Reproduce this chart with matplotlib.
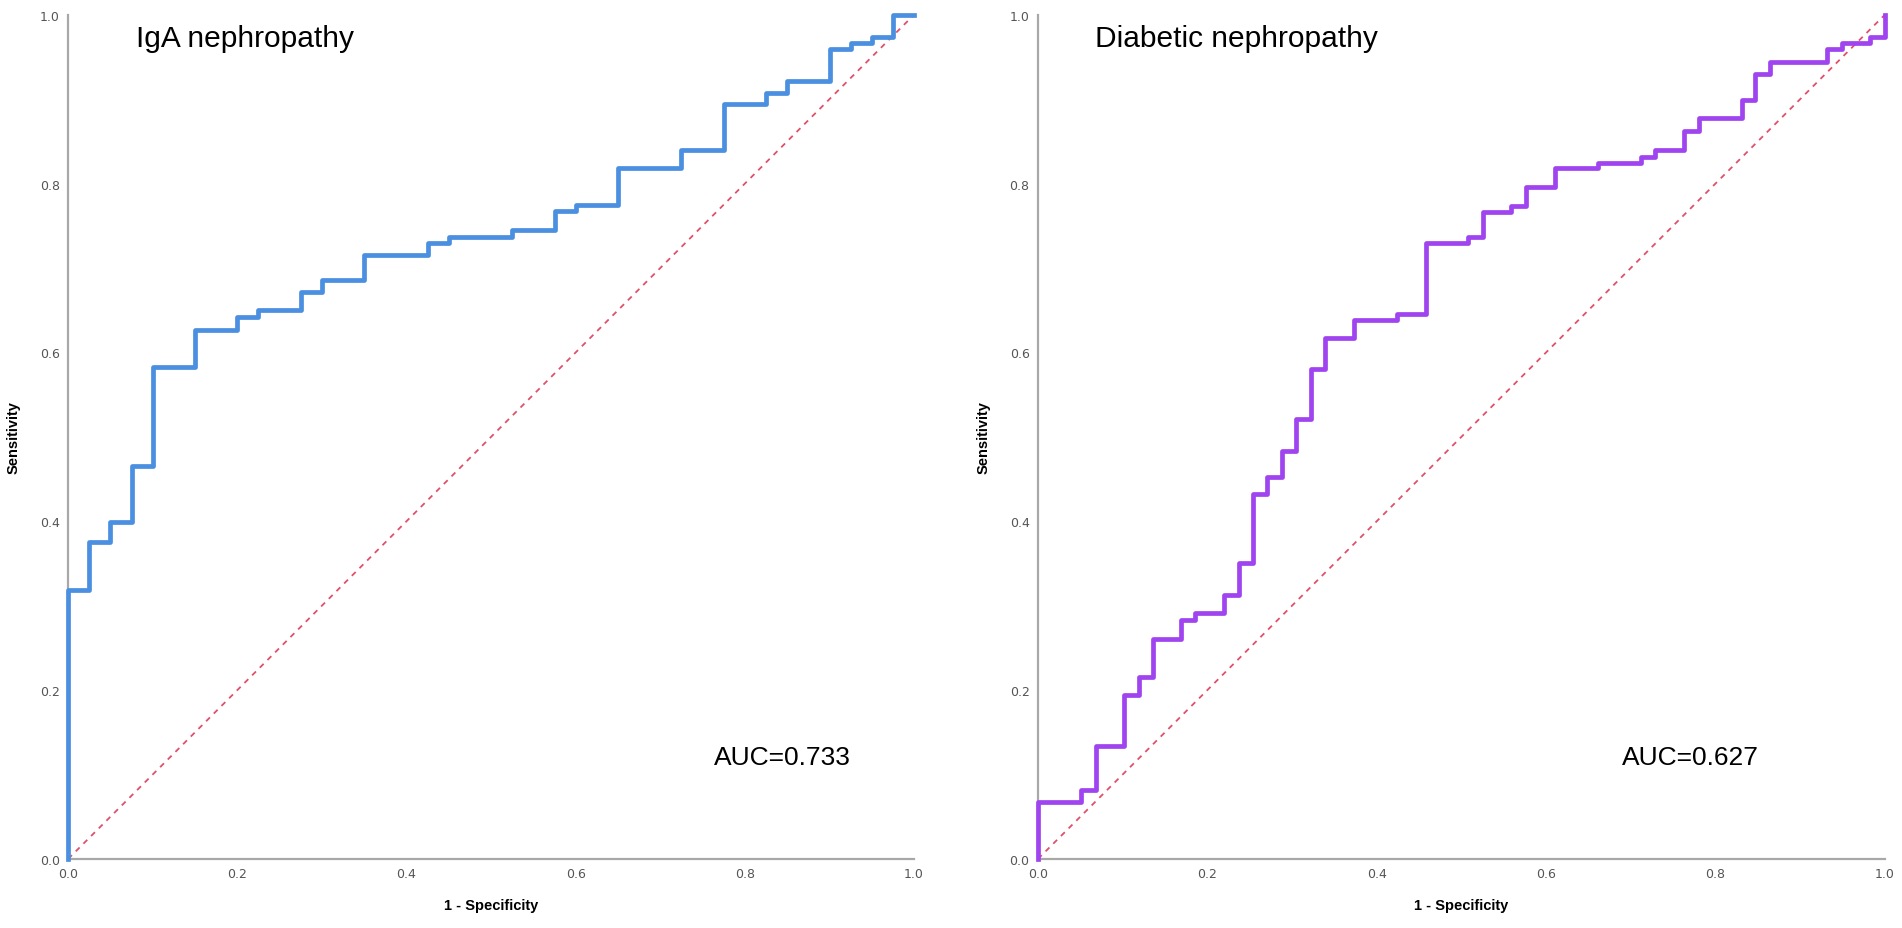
import matplotlib
matplotlib.use("Agg")
import matplotlib.pyplot as plt

# ROC step points (1 - specificity, sensitivity)
iga_fpr = [0, 0, 0.025, 0.05, 0.075, 0.1, 0.15, 0.2, 0.225, 0.275, 0.3, 0.35,
           0.425, 0.45, 0.525, 0.575, 0.6, 0.65, 0.725, 0.775, 0.825, 0.85,
           0.9, 0.925, 0.95, 0.975, 1.0]
iga_tpr = [0, 0.318, 0.376, 0.399, 0.465, 0.583, 0.626, 0.642, 0.650, 0.672,
           0.686, 0.715, 0.730, 0.737, 0.745, 0.767, 0.775, 0.819, 0.840,
           0.894, 0.907, 0.922, 0.959, 0.966, 0.973, 1.0, 1.0]

dn_fpr = [0, 0, 0.051, 0.068, 0.102, 0.119, 0.136, 0.169, 0.186, 0.220, 0.237,
          0.254, 0.271, 0.288, 0.305, 0.322, 0.339, 0.373, 0.424, 0.458, 0.508,
          0.525, 0.559, 0.576, 0.610, 0.661, 0.712, 0.729, 0.763, 0.780, 0.831,
          0.847, 0.864, 0.932, 0.949, 0.983, 1.0, 1.0]
dn_tpr = [0, 0.068, 0.082, 0.134, 0.194, 0.216, 0.261, 0.283, 0.291, 0.313,
          0.350, 0.432, 0.453, 0.483, 0.521, 0.580, 0.617, 0.638, 0.646, 0.729,
          0.737, 0.766, 0.774, 0.796, 0.818, 0.824, 0.832, 0.840, 0.862, 0.878,
          0.899, 0.930, 0.944, 0.959, 0.967, 0.973, 1.0, 1.0]

titles = ["IgA nephropathy", "Diabetic nephropathy"]
auc_labels = ["AUC=0.733", "AUC=0.627"]
ticks = [0.0, 0.2, 0.4, 0.6, 0.8, 1.0]
tick_labels = ["0.0", "0.2", "0.4", "0.6", "0.8", "1.0"]

fig = plt.figure(figsize=(19.02, 9.29), dpi=100)
ax1 = fig.add_axes([0.0358, 0.0743, 0.4448, 0.9088])
ax2 = fig.add_axes([0.5457, 0.0743, 0.4453, 0.9088])

panels = [
    (ax1, iga_fpr, iga_tpr, "#4a8fe0", 0.08, 0.764),
    (ax2, dn_fpr, dn_tpr, "#a044f0", 0.067, 0.69),
]

for i, (ax, fpr, tpr, col, tx, ax_auc) in enumerate(panels):
    ax.plot([0, 1], [0, 1], color="#e0506a", linewidth=1.3,
            linestyle=(0, (3, 3)), clip_on=False, zorder=2)
    ax.step(fpr, tpr, where="post", color=col, linewidth=3.4,
            clip_on=False, zorder=3)
    ax.set_xlim(0, 1)
    ax.set_ylim(0, 1)
    for s in ["top", "right"]:
        ax.spines[s].set_visible(False)
    for s in ["left", "bottom"]:
        ax.spines[s].set_color("#a8a8a8")
        ax.spines[s].set_linewidth(1.6)
    ax.set_xticks(ticks)
    ax.set_xticklabels(tick_labels)
    ax.set_yticks(ticks)
    ax.set_yticklabels(tick_labels)
    ax.tick_params(axis="both", length=0, labelsize=9, labelcolor="#555555")
    ax.tick_params(axis="x", pad=6)
    ax.tick_params(axis="y", pad=6)
    ax.set_xlabel("1 - Specificity", fontsize=10.5, fontweight="bold",
                  family="Liberation Sans", labelpad=13)
    ax.set_ylabel("Sensitivity", fontsize=10.5, fontweight="bold",
                  family="Liberation Sans", labelpad=14)
    ax.text(tx, 0.972, titles[i], transform=ax.transAxes, fontsize=21.5,
            family="Liberation Sans", va="center", ha="left")
    ax.text(ax_auc, 0.121, auc_labels[i], transform=ax.transAxes,
            fontsize=19, family="Liberation Sans", va="center", ha="left")

plt.savefig("out.png", dpi=100)
